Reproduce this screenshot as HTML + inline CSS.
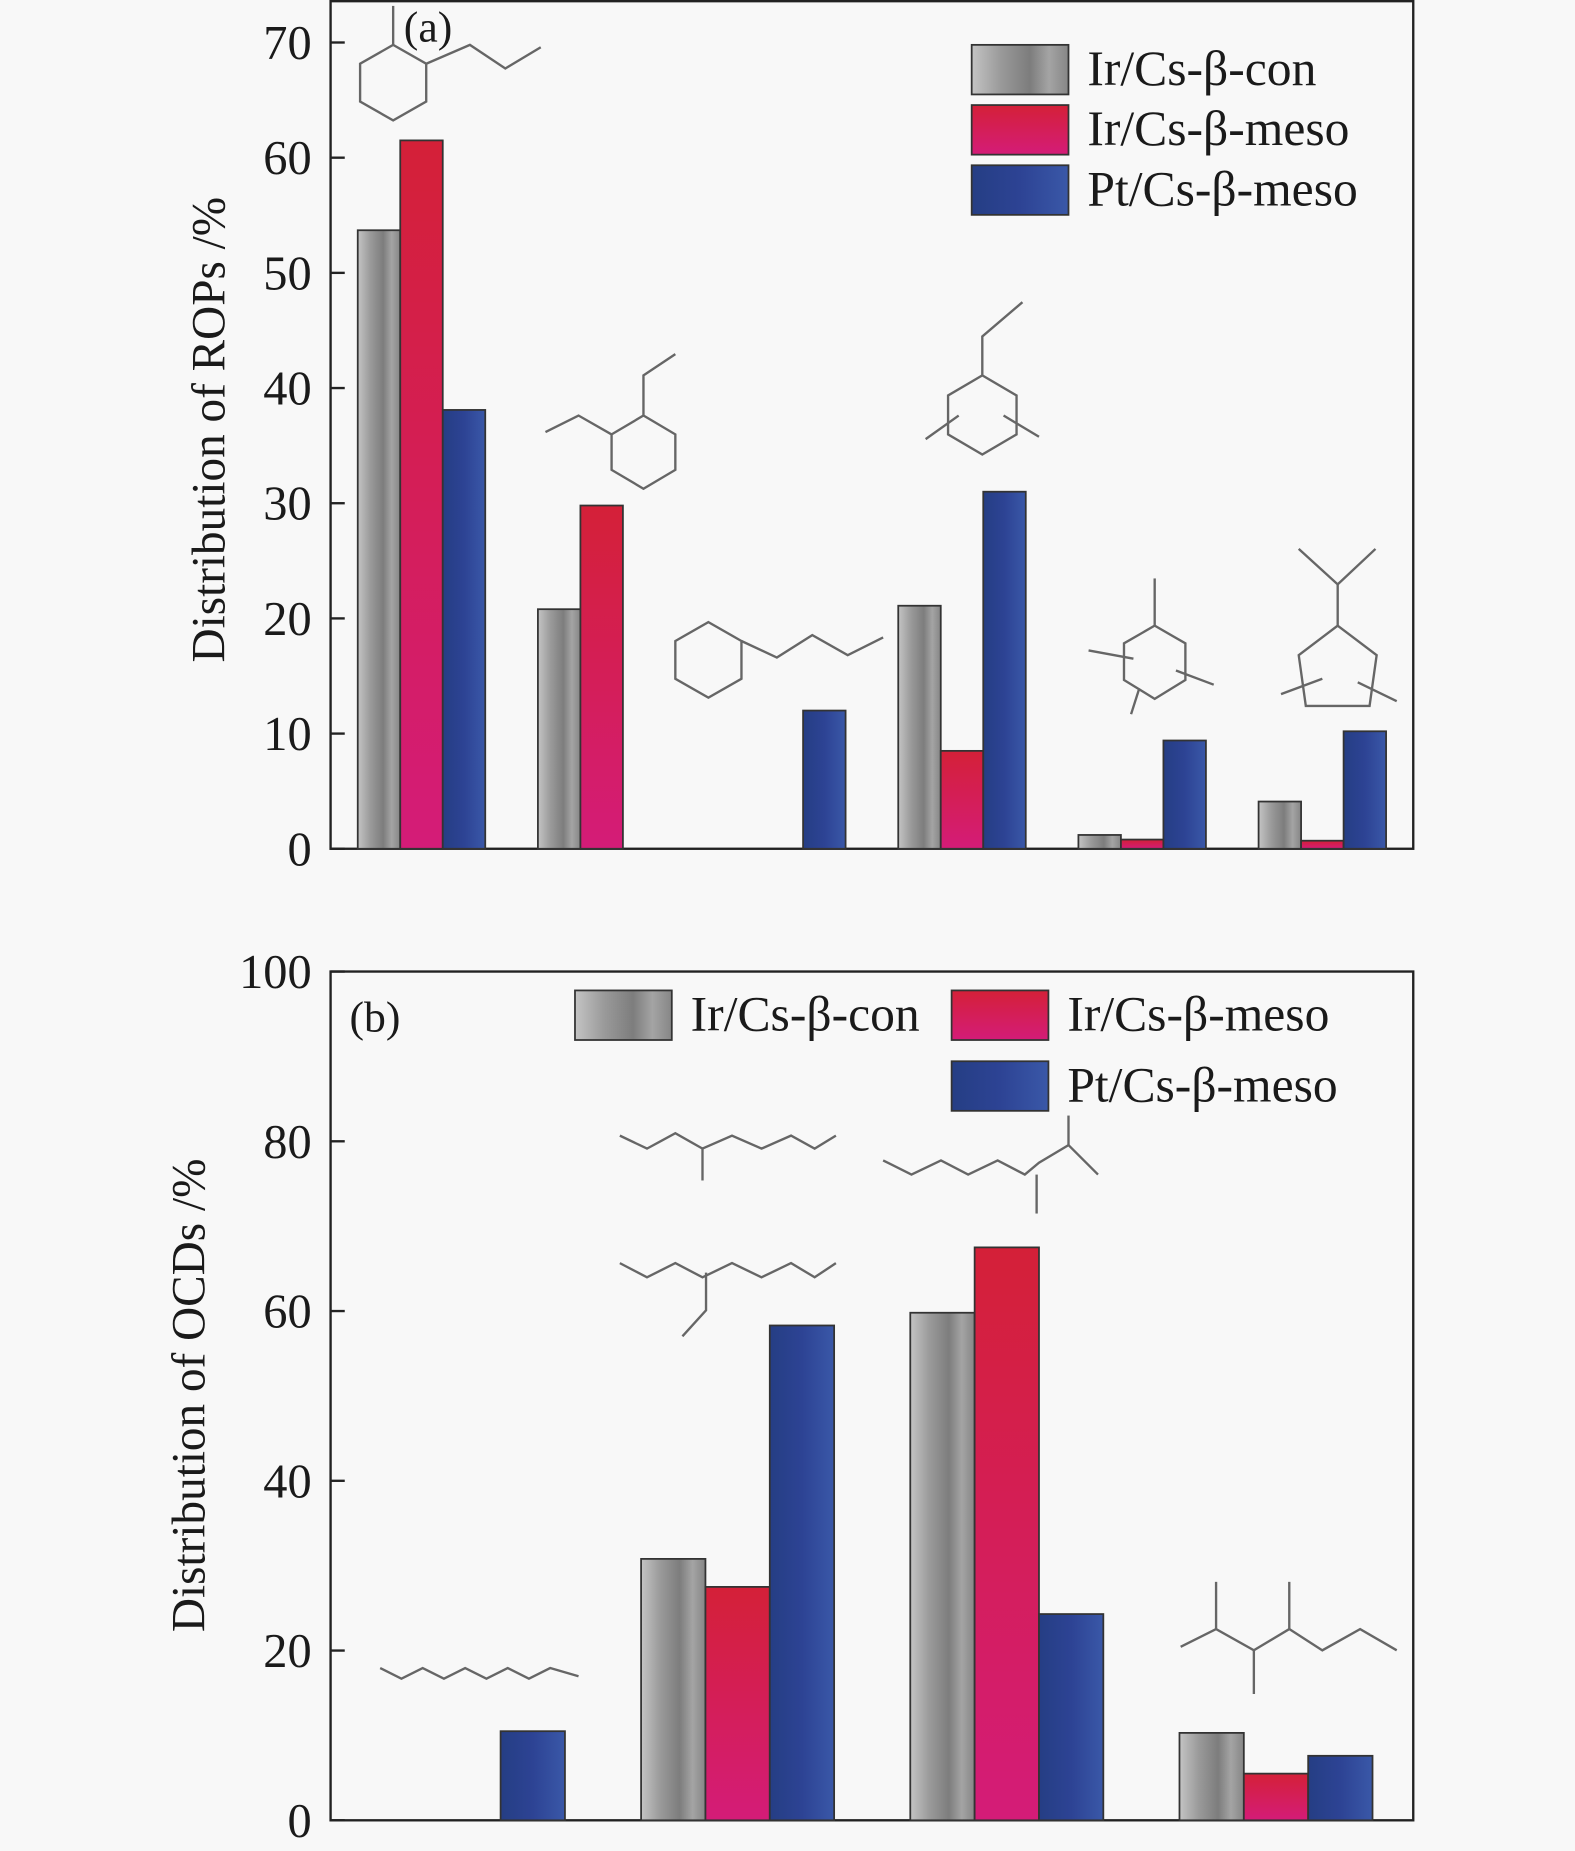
<!DOCTYPE html>
<html><head><meta charset="utf-8"><style>
html,body{margin:0;padding:0;background:#f8f8f8;}
svg{display:block;}
text{font-family:"Liberation Serif",serif;fill:#1a1a1a;}
</style></head><body>
<svg id="chart" width="1575" height="1851" viewBox="0 0 1334 1568" preserveAspectRatio="none" xmlns="http://www.w3.org/2000/svg">
<defs>
<linearGradient id="gGray" x1="0" x2="1" y1="0" y2="0"><stop offset="0" stop-color="#c4c4c4"/><stop offset="0.3" stop-color="#9a9a9a"/><stop offset="0.6" stop-color="#7d7d7d"/><stop offset="0.8" stop-color="#a4a4a4"/><stop offset="1" stop-color="#868686"/></linearGradient>
<linearGradient id="gRed" x1="0" x2="0" y1="0" y2="1"><stop offset="0" stop-color="#d42038"/><stop offset="1" stop-color="#d41c78"/></linearGradient>
<linearGradient id="gBlue" x1="0" x2="1" y1="0" y2="0"><stop offset="0" stop-color="#253e84"/><stop offset="0.5" stop-color="#2d4394"/><stop offset="1" stop-color="#3a58a8"/></linearGradient>
</defs>
<g id="molecules" fill="none" stroke="#666" stroke-width="2">
<polygon points="333,38 361,54 361,86 333,102 305,86 305,54"/><polyline points="333,38 333,5"/><polyline points="361,54 398,38 428,58 458,40"/>
<polygon points="545,352 572,368 572,398 545,414 518,398 518,368"/><polyline points="518,368 490,352 462,366"/><polyline points="545,352 545,318 572,300"/>
<polygon points="600,527 628,543 628,575 600,591 572,575 572,543"/><polyline points="628,543 658,557 688,538 718,555 748,540"/>
<polygon points="832,318 861,335 861,368 832,385 803,368 803,335"/><polyline points="832,318 832,285 866,256"/><polyline points="784,372 812,352"/><polyline points="850,352 880,370"/>
<polygon points="978,530 1004,545 1004,576 978,592 952,576 952,545"/><polyline points="978,530 978,490"/><polyline points="922,551 960,558"/><polyline points="996,568 1028,580"/><polyline points="965,583 958,605"/>
<polygon points="1133,530 1166,555 1160,598 1106,598 1100,555"/><polyline points="1133,530 1133,495 1100,465"/><polyline points="1133,495 1165,465"/><polyline points="1085,588 1120,575"/><polyline points="1150,578 1183,594"/>
<polyline points="322,1413 340,1422 358,1413 376,1422 394,1413 412,1422 430,1413 448,1422 466,1413 490,1420"/>
<polyline points="525,962 548,973 572,960 595,973 620,962 645,973 670,962 690,973 708,962"/><polyline points="595,973 595,1000"/>
<polyline points="525,1070 548,1082 572,1070 595,1082 620,1070 645,1082 670,1070 690,1082 708,1070"/><polyline points="598,1078 598,1110 578,1132"/>
<polyline points="748,983 772,995 797,983 820,995 845,983 868,995 880,985 905,970 930,995"/><polyline points="905,970 905,945"/><polyline points="878,995 878,1028"/>
<polyline points="1000,1395 1030,1380 1062,1398 1092,1380 1120,1398 1152,1380 1183,1398"/><polyline points="1030,1380 1030,1340"/><polyline points="1062,1398 1062,1435"/><polyline points="1092,1380 1092,1340"/>
</g>
<g id="panelA"></g>
<g id="panelB"></g>
</svg>
<script>
const NS="http://www.w3.org/2000/svg";
// Panel (a) data
const aSeries=["Ir/Cs-β-con","Ir/Cs-β-meso","Pt/Cs-β-meso"];
const aCon=[53.7,20.8,0,21.1,1.2,4.1];
const aIrMeso=[61.5,29.8,0,8.5,0.8,0.7];
const aPtMeso=[38.1,0,12,31,9.4,10.2];
const aTicks=[0,10,20,30,40,50,60,70];
// Panel (b) data
const bCon=[0,30.8,59.8,10.3];
const bIrMeso=[0,27.5,67.5,5.5];
const bPtMeso=[10.5,58.3,24.3,7.6];
const bTicks=[0,20,40,60,80,100];

const fills=["url(#gGray)","url(#gRed)","url(#gBlue)"];
function mk(tag,attrs,parent){const e=document.createElementNS(NS,tag);for(const k in attrs)e.setAttribute(k,attrs[k]);parent.appendChild(e);return e;}

function panel(g,opt){
  const {x0,x1,yTop,yBot,frameTop,max,ticks,series,groupStart,groupStep,barW,label,letter,letterX,letterY}=opt;
  const y=v=>yBot-(v/max)*(yBot-yTop);
  const fr=mk('rect',{x:x0,y:frameTop,width:x1-x0,height:yBot-frameTop,fill:'none',stroke:'#222','stroke-width':2},g);
  
  
  ticks.forEach(t=>{
    const tl=mk('line',{x1:x0,x2:x0+12,y1:y(t),y2:y(t),stroke:'#222','stroke-width':2},g);
    
    
    const tx=mk('text',{x:x0-16,y:y(t)+14,'text-anchor':'end','font-size':41},g);
    tx.textContent=t;
    
    
  });
  series.forEach((vals,s)=>{
    vals.forEach((v,i)=>{
      if(v<=0)return;
      const bx=groupStart+i*groupStep+s*barW;
      const r=mk('rect',{x:bx,y:y(v),width:barW,height:yBot-y(v),fill:fills[s],stroke:'#333','stroke-width':1.5},g);
      
      
    });
  });
  const yl=mk('text',{transform:`translate(${label.x},${label.cy}) rotate(-90)`,'text-anchor':'middle','font-size':40},g);
  yl.textContent=label.t;
  
  
  const lt=mk('text',{x:letterX,y:letterY,'font-size':37},g);
  lt.textContent=letter;
  
  
}
panel(document.getElementById('panelA'),{x0:280,x1:1197,yTop:36,yBot:719,frameTop:1,max:70,ticks:aTicks,series:[aCon,aIrMeso,aPtMeso],groupStart:303,groupStep:152.6,barW:36,label:{x:190,cy:364,t:"Distribution of ROPs /%"},letter:"(a)",letterX:342,letterY:35});
panel(document.getElementById('panelB'),{x0:280,x1:1197,yTop:823,yBot:1542,frameTop:823,max:100,ticks:bTicks,series:[bCon,bIrMeso,bPtMeso],groupStart:315,groupStep:228,barW:54.5,label:{x:173,cy:1182,t:"Distribution of OCDs /%"},letter:"(b)",letterX:296,letterY:874});

function legend(g,items){
  items.forEach(([x,y,s])=>{
    const r=mk('rect',{x:x,y:y,width:82,height:42,fill:fills[s],stroke:'#333','stroke-width':1.5},g);
    
    
    const t=mk('text',{x:x+98,y:y+34,'font-size':42},g);
    t.textContent=aSeries[s];
    
    
  });
}
legend(document.getElementById('panelA'),[[823,38,0],[823,89,1],[823,140,2]]);
legend(document.getElementById('panelB'),[[487,839,0],[806,839,1],[806,899,2]]);
</script>
</body></html>
